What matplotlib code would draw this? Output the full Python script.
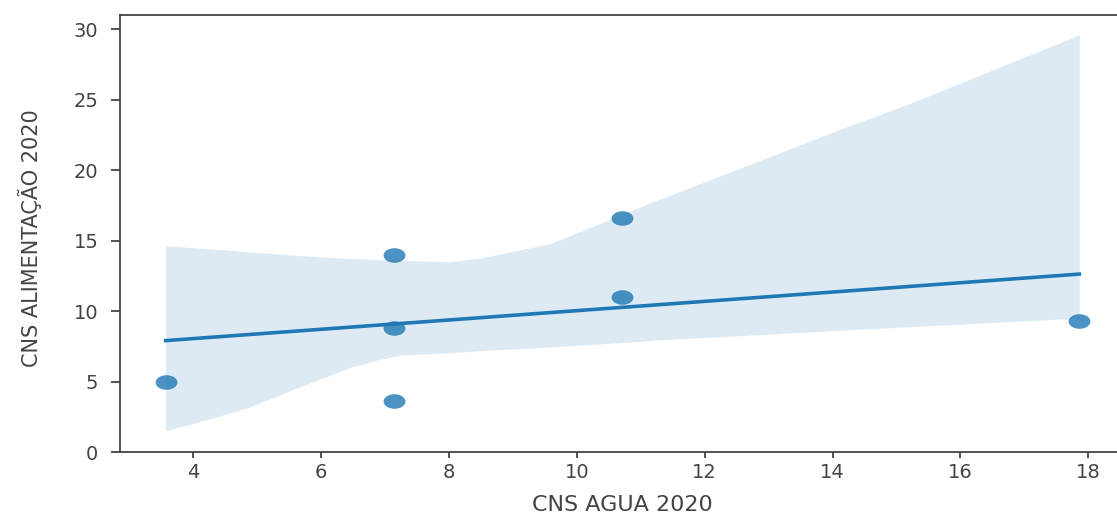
import numpy as np
import matplotlib
matplotlib.use("Agg")
import matplotlib.pyplot as plt
from matplotlib.markers import MarkerStyle
from matplotlib.transforms import Affine2D

# CNS indicators per municipality (2020)
agua_2020 = [3.57, 7.14, 7.14, 7.14, 10.71, 10.71, 17.86]
alimentacao_2020 = [5.0, 14.0, 8.8, 3.6, 16.6, 11.0, 9.3]

# 95% bootstrap confidence band of the fit
band_x = [3.57, 4.3, 4.89, 5.6, 6.46, 6.9, 7.24, 8.02, 8.54, 8.96, 9.59,
          10.11, 11.0, 11.16, 12.76, 14.12, 15.25, 17.86]
band_lo = [1.5, 2.4, 3.2, 4.5, 6.0, 6.55, 6.87, 7.05, 7.2, 7.3, 7.45,
           7.6, 7.85, 7.93, 8.3, 8.64, 8.9, 9.5]
band_hi = [14.63, 14.4, 14.2, 13.95, 13.73, 13.65, 13.6, 13.5, 13.8, 14.2,
           14.8, 15.75, 17.4, 17.7, 20.5, 22.9, 24.8, 29.6]

x_ticks = [4, 6, 8, 10, 12, 14, 16, 18]
y_ticks = [0, 5, 10, 15, 20, 25, 30]

BLUE = "#1f77b4"

fig = plt.figure(figsize=(11.17, 5.14), dpi=100)
ax = fig.add_axes([120 / 1117, 62 / 514, 1005 / 1117, 437 / 514])

# least-squares line over the observed x range
slope, intercept = np.polyfit(agua_2020, alimentacao_2020, 1)
grid = np.linspace(min(agua_2020), max(agua_2020), 100)
ax.plot(grid, slope * grid + intercept, color=BLUE, lw=2.6, zorder=2)
ax.fill_between(band_x, band_lo, band_hi, color=BLUE, alpha=0.15,
                linewidth=0, zorder=1)

# points, drawn a bit wider than tall
oval = MarkerStyle("o", transform=Affine2D().scale(1.5, 1.0))
ax.scatter(agua_2020, alimentacao_2020, s=110, marker=oval,
           color=BLUE, alpha=0.8, linewidths=0, zorder=3)

ax.margins(x=0.05, y=0.05)
ax.set_xticks(x_ticks)
ax.set_yticks(y_ticks)
ax.tick_params(axis="x", labelsize=14, length=4.5, width=1.2,
               colors="#333333", labelcolor="#444444")
ax.tick_params(axis="y", labelsize=14, length=6.5, width=1.2, pad=9,
               colors="#333333", labelcolor="#444444")
for side in ("left", "bottom", "top", "right"):
    ax.spines[side].set_color("#444444")
    ax.spines[side].set_linewidth(1.3)

ax.set_xlabel("CNS AGUA 2020", fontsize=16, color="#444444")
ax.set_ylabel("CNS ALIMENTAÇÃO 2020", fontsize=15, color="#444444")
ax.xaxis.set_label_coords(0.5, -0.098)
ax.yaxis.set_label_coords(-0.078, 0.49)

fig.savefig("out.png", dpi=100)
